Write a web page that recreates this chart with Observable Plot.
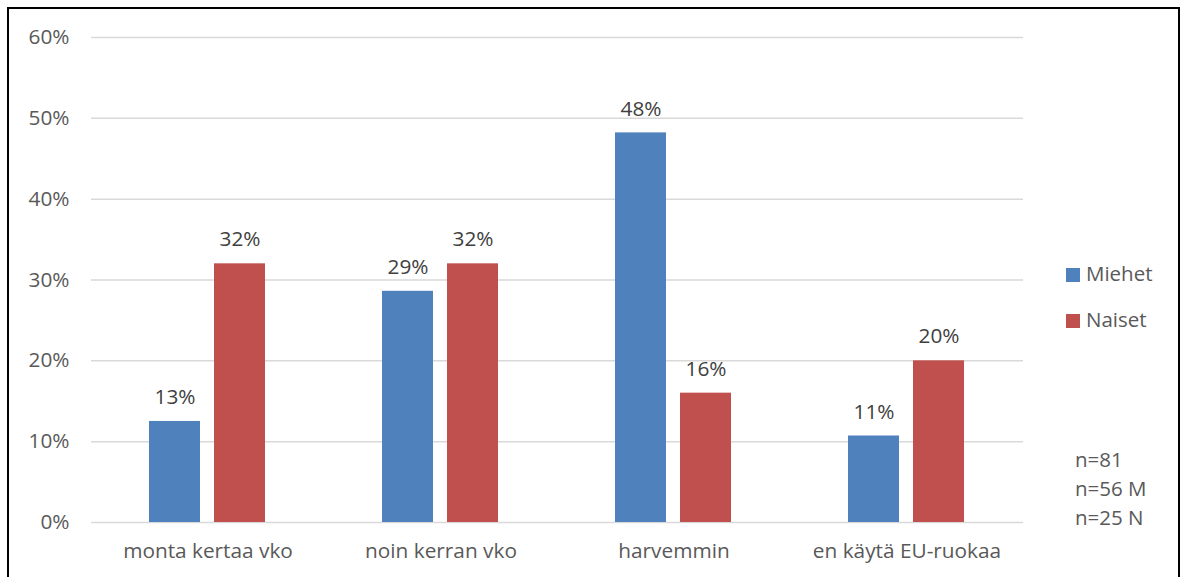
<!DOCTYPE html>
<html>
<head>
<meta charset="utf-8">
<script src="https://cdn.jsdelivr.net/npm/d3@7"></script>
<script src="https://cdn.jsdelivr.net/npm/@observablehq/plot@0.6"></script>
<style>
  html, body { margin: 0; padding: 0; background: #fff; }
  body { width: 1186px; height: 577px; overflow: hidden; position: relative; font-family: "Open Sans", Lato, sans-serif; }
  #frame { position: absolute; left: 7px; top: 7px; width: 1173px; height: 640px; border: 2px solid #000; box-sizing: border-box; pointer-events: none; }
  #chart { position: absolute; left: 0; top: 0; }
  .leg { position: absolute; font-size: 20.5px; color: #595959; line-height: 1; white-space: nowrap; }
  .sw { display: inline-block; width: 14px; height: 14px; vertical-align: -1px; margin-right: 6px; }
</style>
</head>
<body>
<div id="chart"></div>
<div id="legend"></div>
<div id="frame"></div>
<script>
const categories = ["monta kertaa vko", "noin kerran vko", "harvemmin", "en käytä EU-ruokaa"];
const series = ["Miehet", "Naiset"];
const miehet = [12.5, 28.6, 48.2, 10.7];
const naiset = [32, 32, 16, 20];
const colors = ["#4F81BD", "#C0504D"];
const yTicks = [0, 10, 20, 30, 40, 50, 60];
const notes = ["n=81", "n=56 M", "n=25 N"];

const data = [];
categories.forEach((c, i) => {
  data.push({cat: c, series: series[0], value: miehet[i]});
  data.push({cat: c, series: series[1], value: naiset[i]});
});

const chart = Plot.plot({
  width: 1186,
  height: 577,
  marginLeft: 89,
  marginRight: 162,
  marginTop: 37,
  marginBottom: 55,
  style: {fontFamily: "'Open Sans', Lato, sans-serif", fontSize: "20.8px", color: "#595959", background: "transparent"},
  fx: {domain: categories, padding: 0, axis: "bottom", tickSize: 0, tickPadding: 21, label: null},
  x: {domain: series, paddingInner: 0.212, paddingOuter: 0.877, axis: null},
  y: {domain: [0, 60], ticks: yTicks, tickFormat: d => d + "%", tickSize: 0, tickPadding: 22, label: null},
  color: {domain: series, range: colors},
  marks: [
    Plot.gridY(yTicks, {stroke: "#D9D9D9", strokeOpacity: 1, strokeWidth: 1.5}),
    Plot.barY(data, {fx: "cat", x: "series", y: "value", fill: "series"}),
    Plot.text(data, {fx: "cat", x: "series", y: "value", text: d => Math.round(d.value) + "%", dy: -24, fill: "#404040", fontSize: 20.8})
  ]
});
document.getElementById("chart").appendChild(chart);

const legend = document.getElementById("legend");
series.forEach((s, i) => {
  const div = document.createElement("div");
  div.className = "leg";
  div.style.left = "1066px";
  div.style.top = (263 + i * 46) + "px";
  div.innerHTML = `<span class="sw" style="background:${colors[i]}"></span>${s}`;
  legend.appendChild(div);
});
notes.forEach((t, i) => {
  const div = document.createElement("div");
  div.className = "leg";
  div.style.left = "1075px";
  div.style.top = (449 + i * 29) + "px";
  div.textContent = t;
  legend.appendChild(div);
});
</script>
</body>
</html>
